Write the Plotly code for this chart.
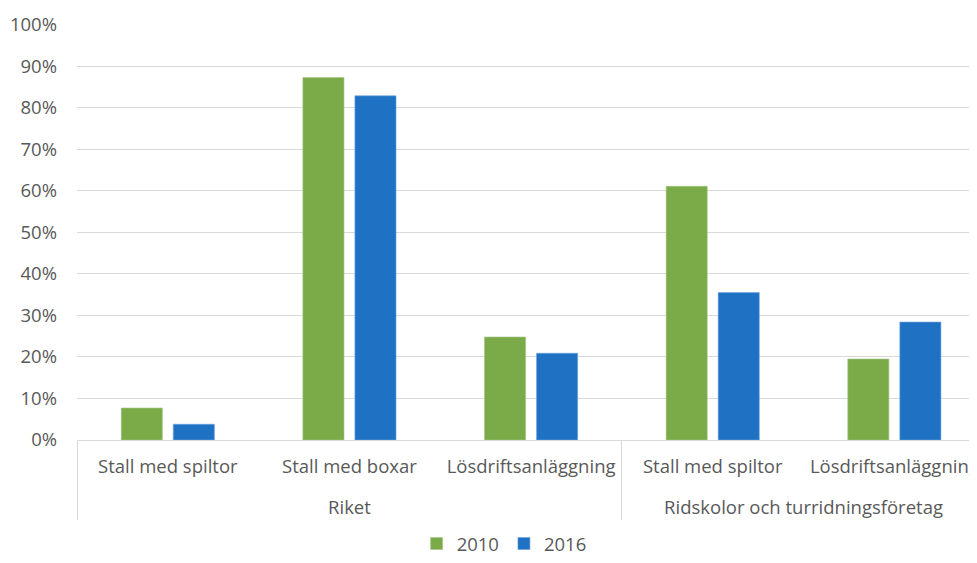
import plotly.graph_objects as go

groups = ["<br>Riket", "<br>Riket", "<br>Riket",
          "<br>Ridskolor och turridningsföretag", "<br>Ridskolor och turridningsföretag"]
categories = ["Stall med spiltor", "Stall med boxar", "Lösdriftsanläggning",
              "Stall med spiltor", "Lösdriftsanläggning"]
values_2010 = [0.077, 0.873, 0.248, 0.611, 0.195]
values_2016 = [0.038, 0.829, 0.209, 0.355, 0.284]
y_ticks = [0, 0.1, 0.2, 0.3, 0.4, 0.5, 0.6, 0.7, 0.8, 0.9, 1.0]

font_family = "Open Sans, Noto Sans, sans-serif"
grey = "#595959"
fsize = 18.5

fig = go.Figure()
fig.add_trace(go.Bar(
    x=[groups, categories], y=values_2010, name="2010",
    marker=dict(color="#7AAB48", line=dict(color="#A3C784", width=0.6)),
))
fig.add_trace(go.Bar(
    x=[groups, categories], y=values_2016, name="2016",
    marker=dict(color="#1F72C3", line=dict(color="#6FA3DB", width=0.6)),
))

# the page body has an 8px margin, so the figure is a bit smaller than the window
fig.update_layout(
    width=969,
    height=555,
    template="simple_white",
    barmode="group",
    bargap=0.427,
    bargroupgap=0.21,
    margin=dict(l=69, r=0, t=16, b=123, autoexpand=False),
    font=dict(family=font_family, size=fsize, color=grey),
    legend=dict(
        orientation="h",
        xref="container", yref="container",
        x=0.512, y=-0.008, xanchor="center", yanchor="bottom",
        font=dict(size=fsize, color=grey),
        traceorder="normal",
        itemwidth=30,
    ),
    plot_bgcolor="white",
    paper_bgcolor="white",
)

fig.update_xaxes(
    type="multicategory",
    range=[-0.5, 4.455],
    showline=True,
    linecolor="#D9D9D9",
    linewidth=1.3,
    ticks="",
    showdividers=True,
    dividercolor="#D9D9D9",
    dividerwidth=1.3,
    ticklabelstandoff=10,
    tickfont=dict(size=fsize, color=grey),
)

fig.update_yaxes(
    range=[0, 1.002],
    tickvals=y_ticks,
    tickformat=".0%",
    showgrid=True,
    gridcolor="#D9D9D9",
    gridwidth=1.3,
    showline=False,
    ticks="",
    ticklabelstandoff=19,
    zeroline=False,
    tickfont=dict(size=fsize, color=grey),
)

fig.write_html("out.html")
